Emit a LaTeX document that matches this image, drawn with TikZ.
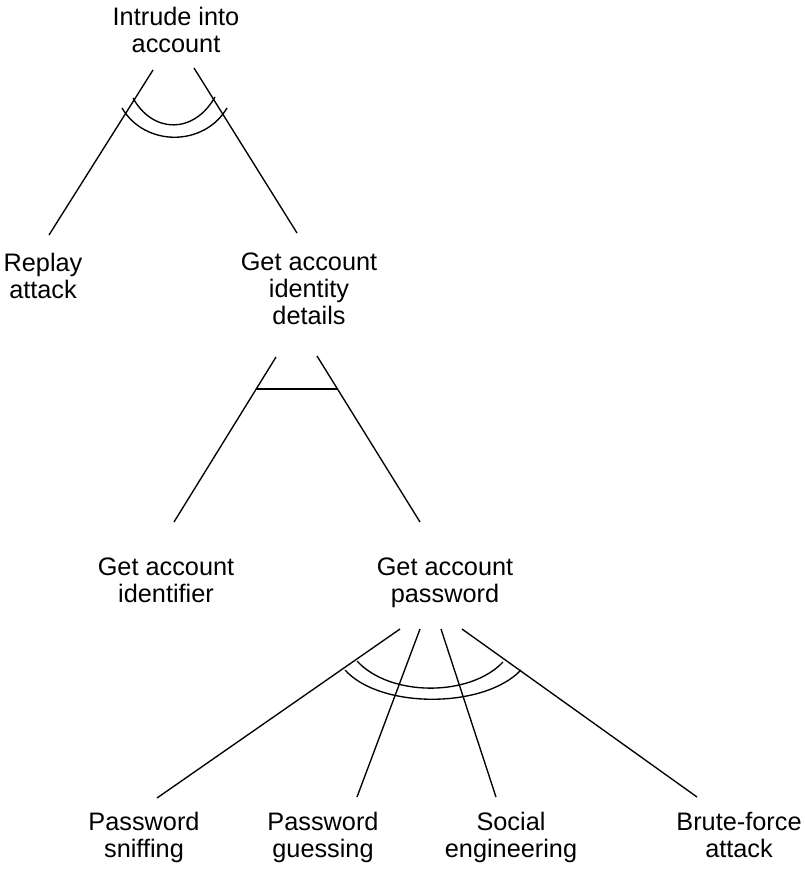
\documentclass[tikz,border=0pt]{standalone}
\usepackage{fontspec}
\setmainfont{Liberation Sans}
\begin{document}
\begin{tikzpicture}[x=1pt,y=-1pt,
  lbl/.style={anchor=north,inner sep=0pt,align=center,font=\fontsize{25.3}{27}\selectfont},
  edge/.style={line width=1.35pt,black},
  andarc/.style={line width=1.35pt,black}]
\useasboundingbox (0,0) rectangle (805,870);
% labels
\node[lbl] (intrude) at (176,7) {Intrude into\\account};
\node[lbl] (replay) at (43,253) {Replay\\attack};
\node[lbl] (identity) at (309,253) {Get account\\identity\\details};
\node[lbl] (identifier) at (166,558) {Get account\\identifier};
\node[lbl] (password) at (445,558) {Get account\\password};
\node[lbl] (sniff) at (144,812) {Password\\sniffing};
\node[lbl] (guess) at (323,812) {Password\\guessing};
\node[lbl] (social) at (511,812) {Social\\engineering};
\node[lbl] (brute) at (739,812) {Brute-force\\attack};
% connector end points
\coordinate (intrude-l) at (153,70);
\coordinate (intrude-r) at (194,68);
\coordinate (replay-t) at (49,235);
\coordinate (identity-t) at (297,233);
\coordinate (identity-l) at (276,357);
\coordinate (identity-r) at (317,356);
\coordinate (identifier-t) at (174,522);
\coordinate (password-t) at (420,522);
\coordinate (password-1) at (400,629);
\coordinate (password-2) at (420,629);
\coordinate (password-3) at (441,629);
\coordinate (password-4) at (462,629);
\coordinate (sniff-t) at (157,798);
\coordinate (guess-t) at (357,797);
\coordinate (social-t) at (496,797);
\coordinate (brute-t) at (697,797);
% connectors
\draw[edge] (intrude-l) -- (replay-t);
\draw[edge] (intrude-r) -- (identity-t);
\draw[edge] (identity-l) -- (identifier-t);
\draw[edge] (identity-r) -- (password-t);
\draw[edge] (password-1) -- (sniff-t);
\draw[edge] (password-2) -- (guess-t);
\draw[edge] (password-3) -- (social-t);
\draw[edge] (password-4) -- (brute-t);
% double arc (top)
\draw[andarc] (133,98) .. controls (153,134) and (194,134) .. (215,97);
\draw[andarc] (122,108) .. controls (145,147) and (204,147) .. (227,108);
% bar
\draw[andarc] (256,389) -- (337,389);
% double arc (bottom)
\draw[andarc] (357,661) .. controls (390,697) and (470,697) .. (503,662);
\draw[andarc] (345,670) .. controls (380,709) and (484,709) .. (521,670);
\end{tikzpicture}
\end{document}
